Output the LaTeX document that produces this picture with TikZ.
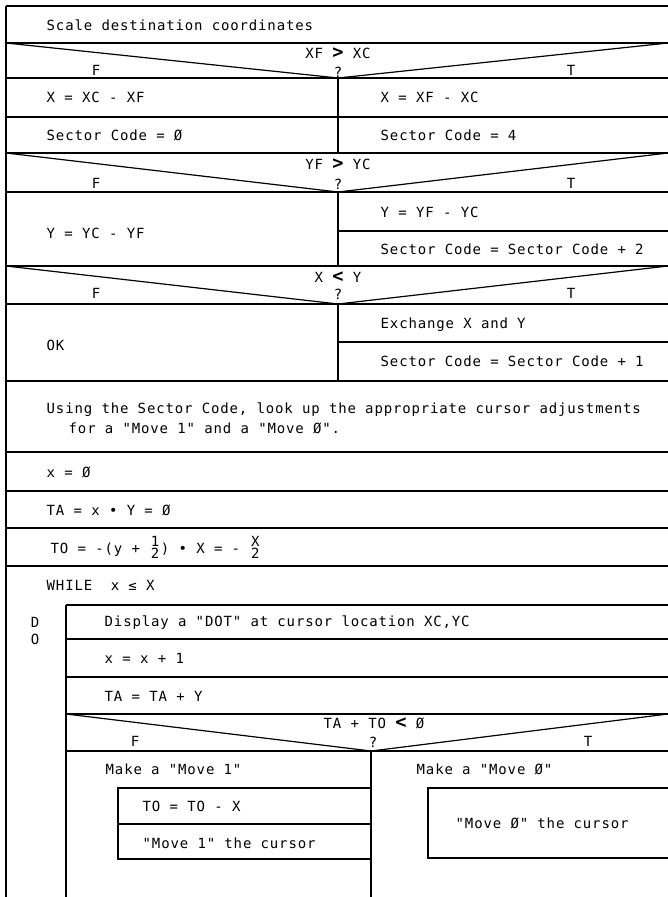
\documentclass[tikz,border=0pt]{standalone}
\usepackage{fontspec}
\usepackage{amsmath}
\newfontfamily\nsfont{DejaVu Sans Mono}[LetterSpace=6]
\newcommand{\stackfrac}[2]{\ensuremath{\genfrac{}{}{0pt}{}{\mbox{#1}}{\mbox{#2}}}}
\newcommand{\relsym}[1]{{\fontsize{14}{14}\selectfont\bfseries #1}}

\begin{document}
\begin{tikzpicture}[
  x=0.75pt, y=-0.75pt,
  line width=1.1pt,
  txt/.style={anchor=west, inner sep=0pt, text height=7.6pt, text depth=0pt,
    font={\fontsize{10.5}{12}\nsfont}},
  mid/.style={txt, anchor=center},
  vee/.style={line width=0.9pt},
]
\useasboundingbox (0,0) rectangle (668,897);

% Outer frame and full-width rules.
\draw (6,6) -- (668,6);
\draw (6,6) -- (6,897);
\foreach \yy in {43,78,117,153,192,266,304,381,452,491,528,566}
  \draw (6,\yy) -- (668,\yy);

% Decisions on X, Y and X<Y.
\draw[vee] (6,43) -- (338,78) -- (668,43);
\draw[vee] (6,153) -- (338,192) -- (668,153);
\draw[vee] (6,266) -- (338,304) -- (668,266);
\draw (338,78) -- (338,153);
\draw (338,192) -- (338,266);
\draw (338,304) -- (338,381);
\draw (338,231) -- (668,231);
\draw (338,342) -- (668,342);

\node[txt] (scale) at (46,25) {Scale destination coordinates};

\node[mid] (condx) at (338,53) {XF \relsym{>} XC};
\node[mid] (fx) at (96,70) {F};
\node[mid] (qx) at (338,72) {?};
\node[mid] (tx) at (571,70) {T};
\node[txt] (xneg) at (46,97) {X = XC - XF};
\node[txt] (xpos) at (380,97) {X = XF - XC};
\node[txt] (scneg) at (46,135) {Sector Code = Ø};
\node[txt] (scpos) at (380,135) {Sector Code = 4};

\node[mid] (condy) at (338,164) {YF \relsym{>} YC};
\node[mid] (fy) at (96,183) {F};
\node[mid] (qy) at (338,184) {?};
\node[mid] (ty) at (571,183) {T};
\node[txt] (yneg) at (46,233) {Y = YC - YF};
\node[txt] (ypos) at (380,212) {Y = YF - YC};
\node[txt] (scy) at (380,249) {Sector Code = Sector Code + 2};

\node[mid] (condxy) at (338,277) {X \relsym{<} Y};
\node[mid] (fxy) at (96,293) {F};
\node[mid] (qxy) at (338,294) {?};
\node[mid] (txy) at (571,293) {T};
\node[txt] (ok) at (46,345) {OK};
\node[txt] (swap) at (380,323) {Exchange X and Y};
\node[txt] (scxy) at (380,361) {Sector Code = Sector Code + 1};

% Setup before the loop.
\node[txt] (lookup) at (46,408)
  {Using the Sector Code, look up the appropriate cursor adjustments};
\node[txt] (lookup2) at (68,428) {for a "Move 1" and a "Move Ø".};
\node[txt] (xinit) at (46,472) {x = Ø};
\node[txt] (tainit) at (46,510) {TA = x • Y = Ø};
\node[txt] (toinit) at (50,548)
  {TO = -(y + \stackfrac{1}{2}) • X = - \stackfrac{X}{2}};
\node[txt] (while) at (46,585) {WHILE~~x ≤ X};

% Loop body.
\draw (66,605) -- (66,897);
\foreach \yy in {605,639,677,714,751}
  \draw (66,\yy) -- (668,\yy);
\node[mid] (dod) at (35,622) {D};
\node[mid] (doo) at (35,639) {O};
\node[txt] (dot) at (104,621) {Display a "DOT" at cursor location XC,YC};
\node[txt] (xinc) at (104,658) {x = x + 1};
\node[txt] (tainc) at (104,696) {TA = TA + Y};

\draw[vee] (66,714) -- (371,751) -- (668,714);
\draw (371,751) -- (371,897);
\node[mid] (condt) at (374,723) {TA + TO \relsym{<} Ø};
\node[mid] (ft) at (135,741) {F};
\node[mid] (qt) at (373,742) {?};
\node[mid] (tt) at (588,741) {T};

% Move 1 branch.
\node[txt] (mk1) at (105,769) {Make a "Move 1"};
\draw (118,788) rectangle (371,859);
\draw (118,824) -- (371,824);
\node[txt] (todec) at (142,806) {TO = TO - X};
\node[txt] (mv1) at (142,843) {"Move 1" the cursor};

% Move 0 branch.
\node[txt] (mk0) at (416,769) {Make a "Move Ø"};
\draw (668,788) -- (428,788) -- (428,858) -- (668,858);
\node[txt] (mv0) at (455,823) {"Move Ø" the cursor};

\end{tikzpicture}
\end{document}
